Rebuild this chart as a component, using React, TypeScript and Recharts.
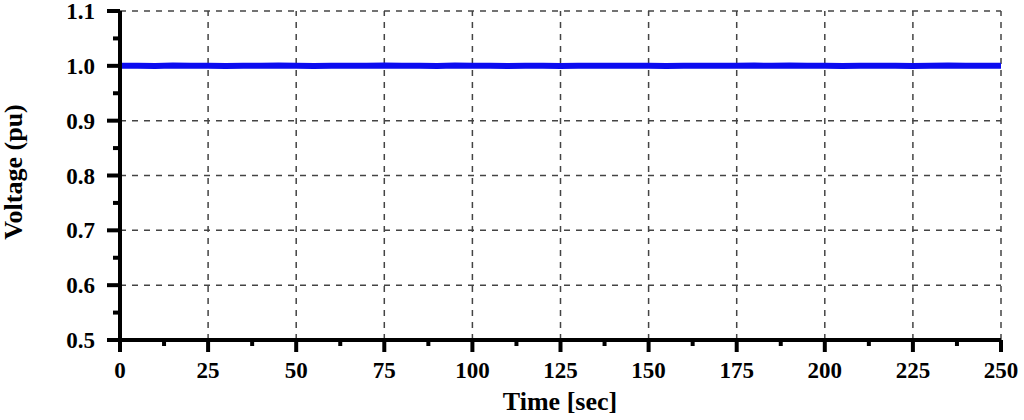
import { LineChart, Line, XAxis, YAxis, ReferenceLine, Label } from 'recharts';

// time axis (sec) and measured voltage (pu)
const timeSec = [
  0, 5, 10, 15, 20, 25, 30, 35, 40, 45, 50, 55, 60, 65, 70, 75, 80, 85, 90, 95, 100,
  105, 110, 115, 120, 125, 130, 135, 140, 145, 150, 155, 160, 165, 170, 175, 180, 185,
  190, 195, 200, 205, 210, 215, 220, 225, 230, 235, 240, 245, 250,
];
const voltagePu = [
  1.0, 1.0, 0.9995, 1.0005, 1.0, 1.0, 0.9995, 1.0, 1.0, 1.0005, 1.0, 0.9995, 1.0, 1.0, 1.0,
  1.0005, 1.0, 1.0, 0.9995, 1.0005, 1.0, 1.0, 0.9995, 1.0, 1.0, 0.9995, 1.0, 1.0, 1.0, 1.0,
  1.0, 0.9995, 1.0, 1.0, 1.0, 1.0, 1.0005, 1.0, 1.0005, 1.0, 1.0, 0.9995, 1.0, 1.0, 1.0,
  0.9995, 1.0, 1.0005, 1.0, 1.0, 1.0,
];

const xMajor = [0, 25, 50, 75, 100, 125, 150, 175, 200, 225, 250];
const xAllTicks = [
  0, 12.5, 25, 37.5, 50, 62.5, 75, 87.5, 100, 112.5, 125, 137.5, 150, 162.5, 175,
  187.5, 200, 212.5, 225, 237.5, 250,
];
const yMajor = [0.5, 0.6, 0.7, 0.8, 0.9, 1.0, 1.1];
const yAllTicks = [
  0.5, 0.55, 0.6, 0.65, 0.7, 0.75, 0.8, 0.85, 0.9, 0.95, 1.0, 1.05, 1.1,
];

const data = timeSec.map((t, i) => ({ t, v: voltagePu[i] }));

const FONT = '"Liberation Serif", "Times New Roman", serif';

const isMajor = (list: number[], v: number) => list.some((m) => Math.abs(m - v) < 1e-6);

function XTick(props: any) {
  const { x, y, payload } = props;
  const major = isMajor(xMajor, payload.value);
  return (
    <g>
      <line x1={x} x2={x} y1={y} y2={y + (major ? 12 : 6)} stroke="#000" strokeWidth={4} />
      {major && (
        <text x={x} y={y + 38} textAnchor="middle" fontFamily={FONT} fontWeight="bold" fontSize={23} fill="#000">
          {payload.value}
        </text>
      )}
    </g>
  );
}

function YTick(props: any) {
  const { x, y, payload } = props;
  const major = isMajor(yMajor, payload.value);
  return (
    <g>
      <line x1={x} x2={x - (major ? 13 : 7)} y1={y} y2={y} stroke="#000" strokeWidth={4} />
      {major && (
        <text x={x - 25} y={y + 8} textAnchor="end" fontFamily={FONT} fontWeight="bold" fontSize={23} fill="#000">
          {payload.value.toFixed(1)}
        </text>
      )}
    </g>
  );
}

const XTitle = () => (
  <text x={560} y={410} textAnchor="middle" fontFamily={FONT} fontWeight="bold" fontSize={26} fill="#000">
    Time [sec]
  </text>
);

const YTitle = () => (
  <text
    x={22}
    y={172}
    transform="rotate(-90, 22, 172)"
    textAnchor="middle"
    fontFamily={FONT}
    fontWeight="bold"
    fontSize={26}
    fill="#000"
  >
    Voltage (pu)
  </text>
);

export default function App() {
  return (
    <div style={{ position: 'absolute', left: 0, top: 0, background: '#fff' }}>
      <LineChart width={1024} height={420} data={data} margin={{ top: 11, right: 23, bottom: 0, left: 0 }}>
        {xMajor.slice(1).map((v) => (
          <ReferenceLine key={'x' + v} x={v} stroke="#444" strokeWidth={1.5} strokeDasharray="6 6" />
        ))}
        {yMajor.slice(1).map((v) => (
          <ReferenceLine key={'y' + v} y={v} stroke="#444" strokeWidth={1.5} strokeDasharray="6 6" />
        ))}
        <XAxis
          dataKey="t"
          type="number"
          domain={[0, 250]}
          ticks={xAllTicks}
          interval={0}
          height={80}
          tickSize={0}
          tickMargin={0}
          tickLine={false}
          axisLine={{ stroke: '#000', strokeWidth: 4 }}
          tick={<XTick />}
        >
          <Label content={<XTitle />} />
        </XAxis>
        <YAxis
          type="number"
          domain={[0.5, 1.1]}
          ticks={yAllTicks}
          interval={0}
          width={120}
          tickSize={0}
          tickMargin={0}
          tickLine={false}
          axisLine={{ stroke: '#000', strokeWidth: 4 }}
          tick={<YTick />}
        >
          <Label content={<YTitle />} />
        </YAxis>
        <Line
          type="linear"
          dataKey="v"
          stroke="#0c0cf0"
          strokeWidth={6}
          dot={false}
          isAnimationActive={false}
        />
      </LineChart>
    </div>
  );
}
